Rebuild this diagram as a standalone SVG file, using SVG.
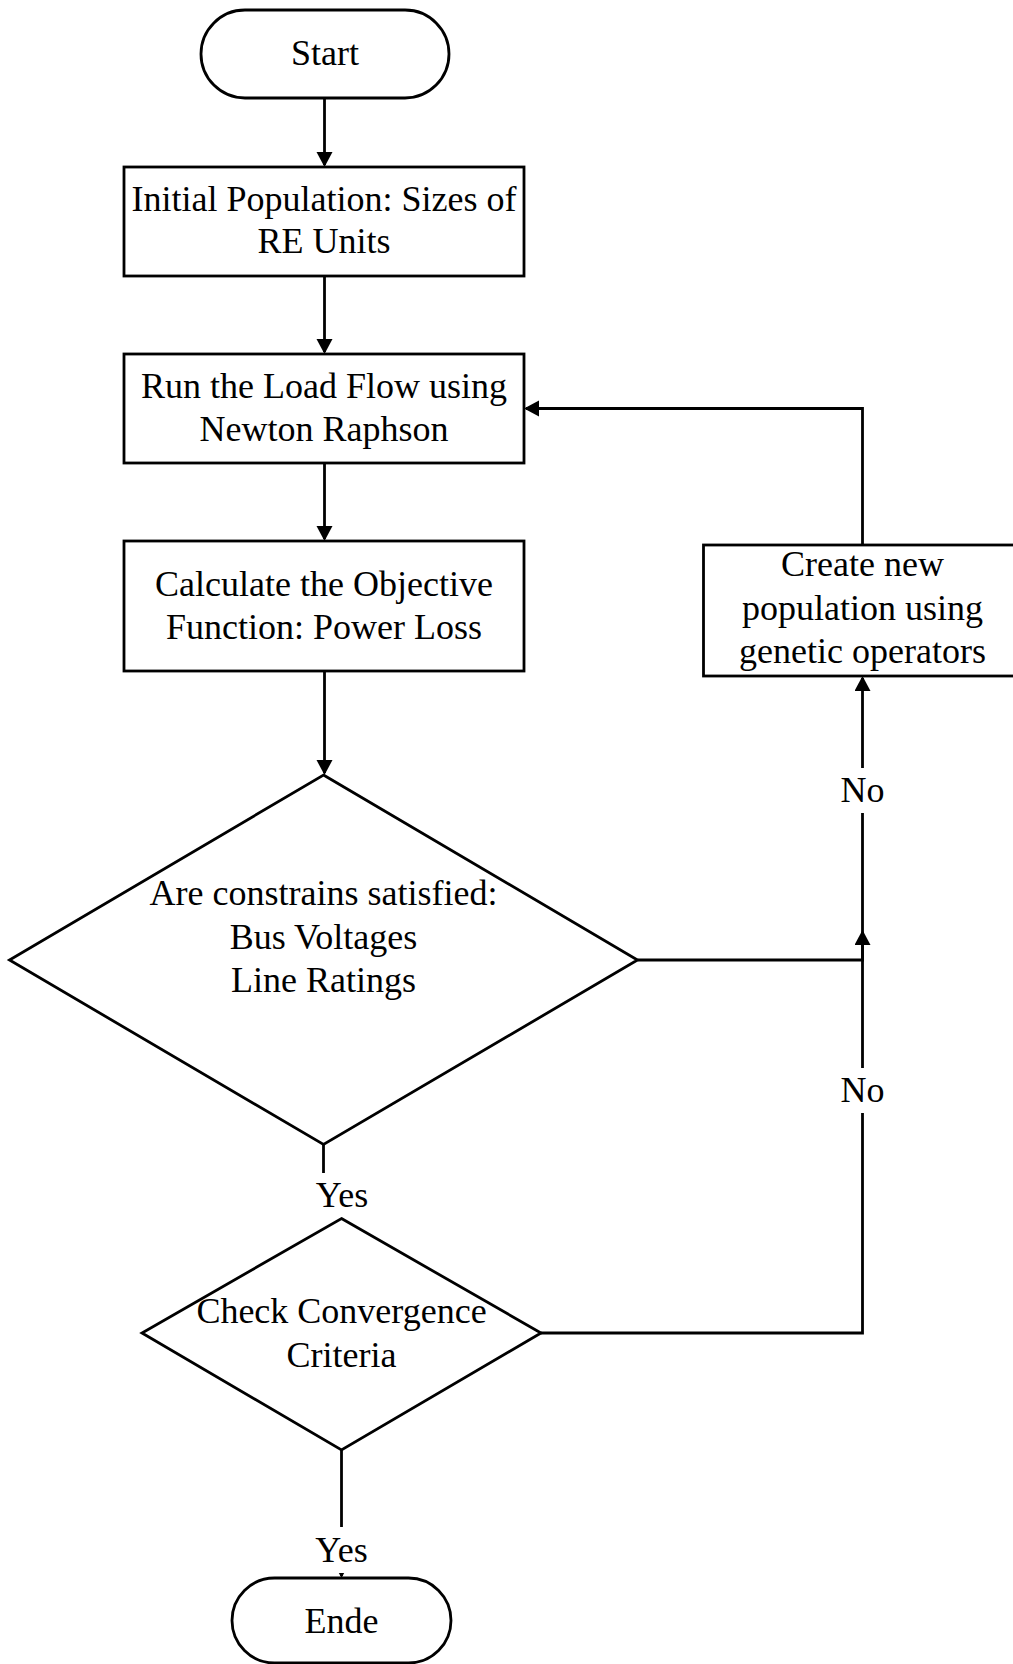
<svg xmlns="http://www.w3.org/2000/svg" width="1013" height="1664" viewBox="0 0 1013 1664">
<style>
.shape{fill:#fff;stroke:#000;stroke-width:2.8}
.conn{fill:none;stroke:#000;stroke-width:2.8}
text{font-family:"Liberation Serif","Times New Roman",serif;font-size:36px;fill:#000;text-anchor:middle}
.bg{fill:#fff;stroke:none}
</style>
<defs>
<marker id="arr" markerUnits="userSpaceOnUse" markerWidth="16" markerHeight="17" refX="13" refY="8" orient="auto" viewBox="0 0 16 17">
<path d="M0,0 L15,8 L0,16 z" fill="#000"/>
</marker>
</defs>
<rect x="0" y="0" width="1013" height="1664" fill="#fff"/>
<g id="connectors">
<path class="conn" d="M324.5,98 V165" marker-end="url(#arr)"/>
<path class="conn" d="M324.5,276 V352" marker-end="url(#arr)"/>
<path class="conn" d="M324.5,463 V539" marker-end="url(#arr)"/>
<path class="conn" d="M324.5,671 V773" marker-end="url(#arr)"/>
<path class="conn" d="M323.5,1144.5 V1173"/>
<path class="conn" d="M637.5,960 H862.5 V678" marker-end="url(#arr)"/>
<path class="conn" d="M541,1333 H862.5 V932" marker-end="url(#arr)"/>
<path class="conn" d="M862.5,545 V408.5 H526" marker-end="url(#arr)"/>
<path class="conn" d="M341.5,1450 V1576" marker-end="url(#arr)"/>
<rect class="bg" x="840" y="768" width="45" height="45"/>
<text x="862.5" y="802">No</text>
<rect class="bg" x="840" y="1068" width="45" height="45"/>
<text x="862.5" y="1102">No</text>
<text x="342" y="1207">Yes</text>
<rect class="bg" x="312" y="1527" width="60" height="46"/>
<text x="341.5" y="1562">Yes</text>
</g>
<g id="start">
<rect class="shape" x="201" y="10" width="248" height="88" rx="44" ry="44"/>
<text x="325" y="65">Start</text>
</g>
<g id="init-pop">
<rect class="shape" x="124" y="167" width="400" height="109"/>
<text x="324" y="211">Initial Population: Sizes of</text>
<text x="324" y="253">RE Units</text>
</g>
<g id="load-flow">
<rect class="shape" x="124" y="354" width="400" height="109"/>
<text x="324" y="398">Run the Load Flow using</text>
<text x="324" y="441">Newton Raphson</text>
</g>
<g id="objective">
<rect class="shape" x="124" y="541" width="400" height="130"/>
<text x="324" y="596">Calculate the Objective</text>
<text x="324" y="639">Function: Power Loss</text>
</g>
<g id="constraints">
<polygon class="shape" points="323.5,775 637.5,960 323.5,1144.5 9.5,960"/>
<text x="323.5" y="905">Are constrains satisfied:</text>
<text x="323.5" y="949">Bus Voltages</text>
<text x="323.5" y="992">Line Ratings</text>
</g>
<g id="convergence">
<polygon class="shape" points="341.5,1218.5 541,1333 341.5,1450 142,1333"/>
<text x="341.5" y="1323">Check Convergence</text>
<text x="341.5" y="1367">Criteria</text>
</g>
<g id="new-pop">
<rect class="shape" x="703.5" y="545" width="330" height="131"/>
<text x="862.5" y="576">Create new</text>
<text x="862.5" y="620">population using</text>
<text x="862.5" y="663">genetic operators</text>
</g>
<g id="end">
<rect class="shape" x="232" y="1578" width="219" height="85" rx="42.5" ry="42.5"/>
<text x="341.5" y="1633">Ende</text>
</g>
</svg>
